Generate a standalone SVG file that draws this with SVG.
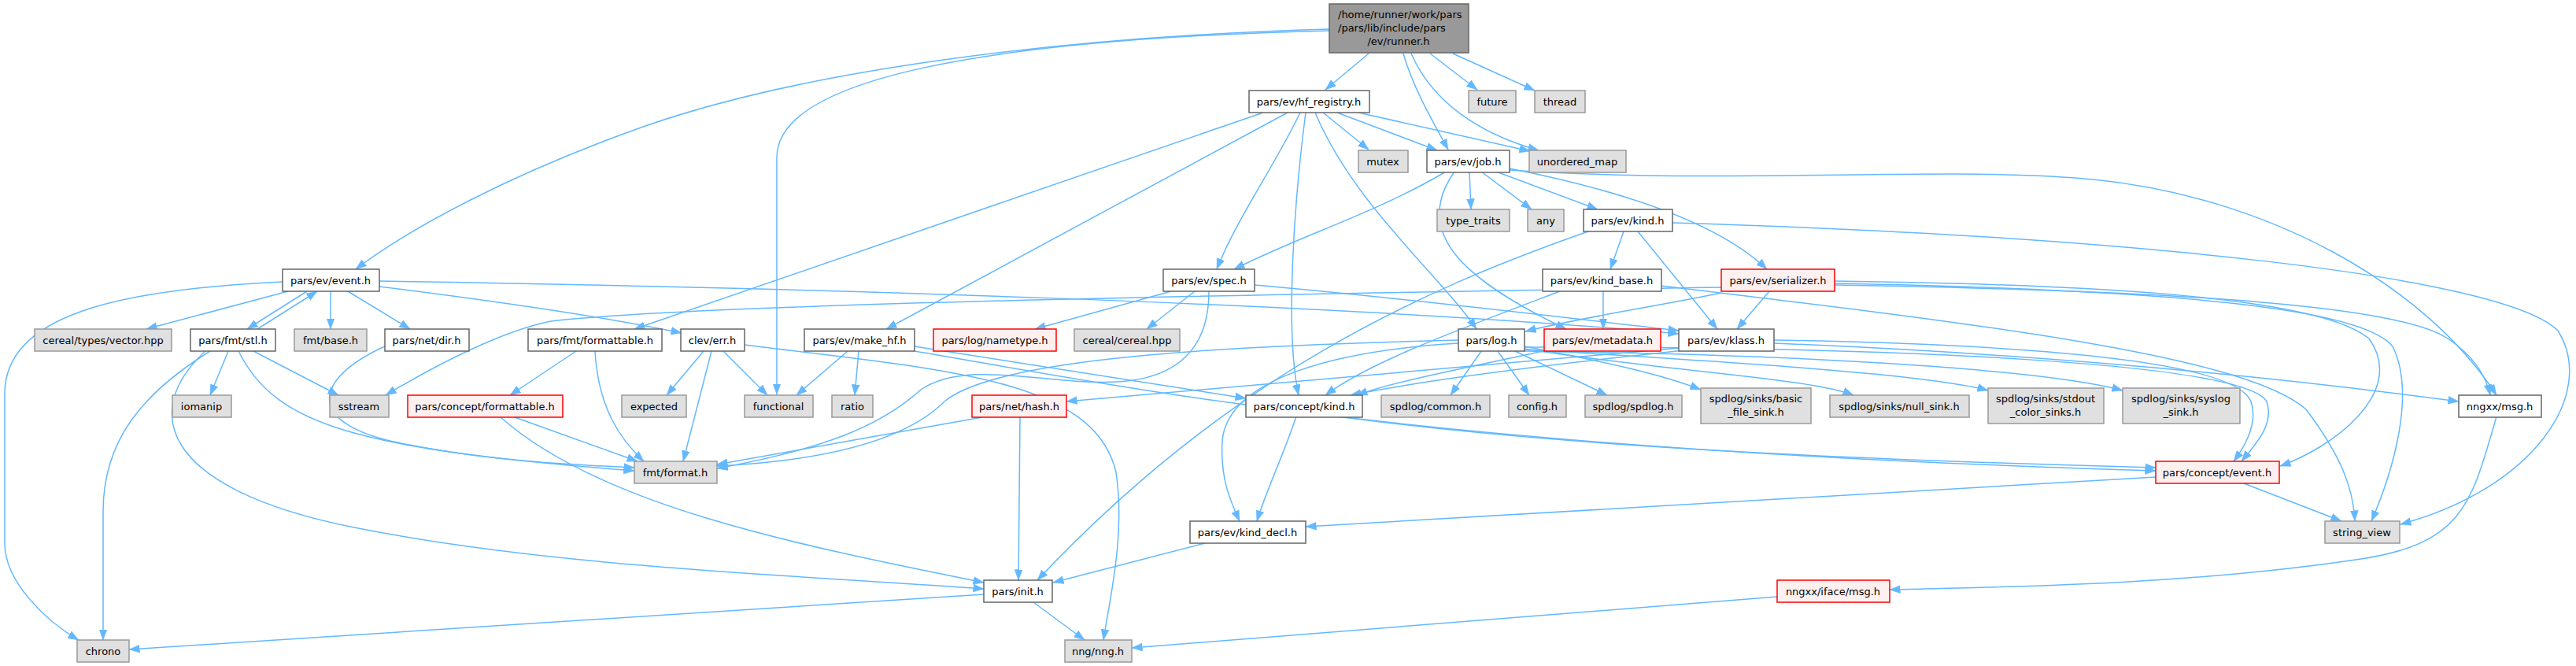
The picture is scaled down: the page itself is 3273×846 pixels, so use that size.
<svg xmlns="http://www.w3.org/2000/svg" width="3273" height="846" viewBox="0 0 3273 846">
<defs>
<style>
.w{fill:#ffffff;stroke:#666666;stroke-width:1.5}
.g{fill:#e0e0e0;stroke:#999999;stroke-width:1.5}
.r{fill:#fff0f0;stroke:#ff0000;stroke-width:1.5}
.root{fill:#999999;stroke:#666666;stroke-width:1.5}
text{font-family:"DejaVu Sans","Liberation Sans",sans-serif;font-size:13px;fill:#000000;text-anchor:middle}
.e path{fill:none;stroke:#63b8ff;stroke-width:1.5;marker-end:url(#a)}
</style>
<marker id="a" markerUnits="userSpaceOnUse" markerWidth="14" markerHeight="11" viewBox="0 0 14 11" refX="13.5" refY="5.5" orient="auto">
<path d="M0,0.5 L13.5,5.5 L0,10.5 z" fill="#63b8ff" stroke="#63b8ff" stroke-width="0.5"/>
</marker>
</defs>
<rect x="0" y="0" width="3273" height="846" fill="#ffffff"/>
<g class="e" id="edges">
<path d="M1739,68 L1684,114"/>
<path d="M1817,68 L1877,114"/>
<path d="M1846,68 L1950,115"/>
<path d="M1783,68 C1795,110 1818,150 1840,190"/>
<path d="M1793,68 C1820,130 1880,170 1955,191"/>
<path d="M1689,37 C1400,45 1050,80 820,160 C650,220 520,290 452,342"/>
<path d="M1689,39 C1250,50 987,100 987,200 L987,501"/>
<path d="M1681,143 L1739,190"/>
<path d="M1699,143 L1826,191"/>
<path d="M1726,143 L1944,192"/>
<path d="M1652,143 C1620,210 1570,280 1546,342"/>
<path d="M1605,143 L806,418"/>
<path d="M1636,143 L1126,418"/>
<path d="M1671,143 C1720,260 1830,350 1876,418"/>
<path d="M1659,143 C1645,250 1632,420 1650,502"/>
<path d="M1837,218 C1750,270 1650,300 1568,342"/>
<path d="M1867,218 L1869,266"/>
<path d="M1882,218 L1946,266"/>
<path d="M1901,218 L2030,266"/>
<path d="M1918,214 C2050,240 2180,280 2245,342"/>
<path d="M1848,218 C1790,300 1870,360 1990,418"/>
<path d="M1918,216 C2200,235 2480,210 2660,228 C2880,250 3080,360 3172,502"/>
<path d="M2063,294 L2046,342"/>
<path d="M2081,294 L2182,418"/>
<path d="M2125,283 C2700,300 3180,350 3250,420 C3300,500 3220,620 3050,666"/>
<path d="M2018,294 C1800,370 1560,480 1318,737"/>
<path d="M2037,370 L2037,418"/>
<path d="M1982,370 C1850,420 1740,460 1684,502"/>
<path d="M2111,363 C2500,410 2850,450 2930,520 C2975,580 2990,620 2992,662"/>
<path d="M2248,370 L2207,418"/>
<path d="M2187,372 C2100,390 2000,405 1938,421"/>
<path d="M2187,365 C1700,372 900,385 700,408 C640,420 560,460 490,502"/>
<path d="M2331,357 C2700,362 2950,380 3010,430 C3060,500 2960,570 2897,592"/>
<path d="M2331,360 C2750,368 3000,390 3040,440 C3070,500 3040,600 3013,662"/>
<path d="M2331,362 C2800,370 3050,390 3110,430 C3140,450 3158,475 3164,502"/>
<path d="M366,370 L186,418"/>
<path d="M390,370 L314,418"/>
<path d="M327,418 L403,370"/>
<path d="M420,370 L420,418"/>
<path d="M442,370 L521,418"/>
<path d="M482,364 C650,385 780,405 866,423"/>
<path d="M482,357 C1000,365 1700,385 2133,424"/>
<path d="M359,358 C150,368 6,400 6,500 L6,690 C6,740 60,790 100,813"/>
<path d="M290,446 L267,502"/>
<path d="M322,446 L430,502"/>
<path d="M267,446 C180,500 131,560 131,650 L131,813"/>
<path d="M303,446 C350,540 450,570 806,598"/>
<path d="M261,446 C180,520 200,620 450,670 C700,720 1000,730 1250,748"/>
<path d="M489,440 C400,480 380,540 520,565 C620,585 720,590 806,594"/>
<path d="M732,446 L648,502"/>
<path d="M756,446 C760,520 790,560 818,586"/>
<path d="M654,530 L810,586"/>
<path d="M636,530 C760,640 1000,690 1250,740"/>
<path d="M894,446 L847,502"/>
<path d="M919,446 L975,502"/>
<path d="M904,446 L868,586"/>
<path d="M946,438 C1200,470 1390,480 1418,600 C1430,680 1410,760 1402,813"/>
<path d="M1077,446 L1012,502"/>
<path d="M1091,446 L1086,502"/>
<path d="M1162,440 C1350,470 1480,490 1583,506"/>
<path d="M1162,446 C1450,495 1800,570 2739,598"/>
<path d="M1488,370 L1315,418"/>
<path d="M1518,370 L1457,418"/>
<path d="M1594,362 C1800,380 2000,405 2133,420"/>
<path d="M1536,370 C1536,440 1500,480 1420,485 C1330,490 1230,455 1170,495 C1120,540 1050,570 911,595"/>
<path d="M1882,446 L1843,502"/>
<path d="M1903,446 L1943,502"/>
<path d="M1925,446 L2042,502"/>
<path d="M1937,440 C2040,460 2110,475 2161,495"/>
<path d="M1937,443 C2100,470 2300,480 2355,502"/>
<path d="M1937,444 C2200,460 2450,475 2526,496"/>
<path d="M1937,446 C2300,450 2600,470 2697,496"/>
<path d="M1853,432 C1500,440 1260,460 1200,510 C1150,560 1050,585 911,592"/>
<path d="M1853,436 C1700,445 1560,480 1553,560 C1550,610 1565,640 1575,662"/>
<path d="M1937,441 C2400,440 2850,460 2880,510 C2890,540 2865,565 2848,586"/>
<path d="M2140,445 C1950,465 1800,485 1716,502"/>
<path d="M2134,442 C1800,470 1500,495 1355,510"/>
<path d="M2254,432 C2600,438 2840,460 2860,510 C2870,540 2850,570 2838,586"/>
<path d="M2254,436 C2600,450 2900,480 3124,510"/>
<path d="M1965,445 C1850,470 1770,485 1724,502"/>
<path d="M1647,529 C1630,580 1610,620 1597,662"/>
<path d="M1700,529 C2000,570 2400,585 2739,594"/>
<path d="M2739,606 L1659,669"/>
<path d="M2851,614 L2975,662"/>
<path d="M1531,690 L1338,740"/>
<path d="M1296,529 L1294,737"/>
<path d="M1248,530 L911,590"/>
<path d="M1313,765 L1378,813"/>
<path d="M1250,755 L164,825"/>
<path d="M2258,758 L1438,823"/>
<path d="M3172,529 C3140,640 3130,690 3000,710 C2800,740 2600,745 2401,749"/>
</g>
<g id="n_runner"><rect class="root" x="1689" y="5" width="177" height="62"/><text x="1700" y="23" style="text-anchor:start">/home/runner/work/pars</text><text x="1700" y="40" style="text-anchor:start">/pars/lib/include/pars</text><text x="1777" y="57">/ev/runner.h</text></g>
<g id="n_hf_registry"><rect class="w" x="1587" y="115" width="153" height="28"/><text x="1663" y="133.5">pars/ev/hf_registry.h</text></g>
<g id="n_future"><rect class="g" x="1866" y="115" width="60" height="28"/><text x="1896" y="133.5">future</text></g>
<g id="n_thread"><rect class="g" x="1950" y="115" width="64" height="28"/><text x="1982" y="133.5">thread</text></g>
<g id="n_mutex"><rect class="g" x="1726" y="191" width="63" height="28"/><text x="1757" y="209.5">mutex</text></g>
<g id="n_job"><rect class="w" x="1813" y="191" width="105" height="28"/><text x="1865" y="209.5">pars/ev/job.h</text></g>
<g id="n_unordered_map"><rect class="g" x="1943" y="191" width="123" height="28"/><text x="2004" y="209.5">unordered_map</text></g>
<g id="n_type_traits"><rect class="g" x="1826" y="266" width="92" height="28"/><text x="1872" y="284.5">type_traits</text></g>
<g id="n_any"><rect class="g" x="1941" y="266" width="46" height="28"/><text x="1964" y="284.5">any</text></g>
<g id="n_kind"><rect class="w" x="2012" y="266" width="113" height="28"/><text x="2068" y="284.5">pars/ev/kind.h</text></g>
<g id="n_event"><rect class="w" x="359" y="342" width="123" height="28"/><text x="420" y="360.5">pars/ev/event.h</text></g>
<g id="n_spec"><rect class="w" x="1478" y="342" width="116" height="28"/><text x="1536" y="360.5">pars/ev/spec.h</text></g>
<g id="n_kind_base"><rect class="w" x="1960" y="342" width="151" height="28"/><text x="2035" y="360.5">pars/ev/kind_base.h</text></g>
<g id="n_serializer"><rect class="r" x="2187" y="342" width="144" height="28"/><text x="2259" y="360.5">pars/ev/serializer.h</text></g>
<g id="n_vector"><rect class="g" x="44" y="418" width="174" height="28"/><text x="131" y="436.5">cereal/types/vector.hpp</text></g>
<g id="n_stl"><rect class="w" x="242" y="418" width="108" height="28"/><text x="296" y="436.5">pars/fmt/stl.h</text></g>
<g id="n_base"><rect class="g" x="374" y="418" width="92" height="28"/><text x="420" y="436.5">fmt/base.h</text></g>
<g id="n_dir"><rect class="w" x="489" y="418" width="107" height="28"/><text x="542" y="436.5">pars/net/dir.h</text></g>
<g id="n_fmt_formattable"><rect class="w" x="671" y="418" width="170" height="28"/><text x="756" y="436.5">pars/fmt/formattable.h</text></g>
<g id="n_err"><rect class="w" x="865" y="418" width="81" height="28"/><text x="905" y="436.5">clev/err.h</text></g>
<g id="n_make_hf"><rect class="w" x="1022" y="418" width="140" height="28"/><text x="1092" y="436.5">pars/ev/make_hf.h</text></g>
<g id="n_nametype"><rect class="r" x="1186" y="418" width="156" height="28"/><text x="1264" y="436.5">pars/log/nametype.h</text></g>
<g id="n_cereal"><rect class="g" x="1365" y="418" width="134" height="28"/><text x="1432" y="436.5">cereal/cereal.hpp</text></g>
<g id="n_log"><rect class="w" x="1853" y="418" width="84" height="28"/><text x="1895" y="436.5">pars/log.h</text></g>
<g id="n_metadata"><rect class="r" x="1962" y="418" width="148" height="28"/><text x="2036" y="436.5">pars/ev/metadata.h</text></g>
<g id="n_klass"><rect class="w" x="2133" y="418" width="121" height="28"/><text x="2193" y="436.5">pars/ev/klass.h</text></g>
<g id="n_iomanip"><rect class="g" x="219" y="502" width="75" height="28"/><text x="256" y="520.5">iomanip</text></g>
<g id="n_sstream"><rect class="g" x="419" y="502" width="75" height="28"/><text x="456" y="520.5">sstream</text></g>
<g id="n_concept_formattable"><rect class="r" x="518" y="502" width="197" height="28"/><text x="616" y="520.5">pars/concept/formattable.h</text></g>
<g id="n_expected"><rect class="g" x="790" y="502" width="82" height="28"/><text x="831" y="520.5">expected</text></g>
<g id="n_functional"><rect class="g" x="946" y="502" width="87" height="28"/><text x="989" y="520.5">functional</text></g>
<g id="n_ratio"><rect class="g" x="1057" y="502" width="52" height="28"/><text x="1083" y="520.5">ratio</text></g>
<g id="n_hash"><rect class="r" x="1235" y="502" width="120" height="28"/><text x="1295" y="520.5">pars/net/hash.h</text></g>
<g id="n_concept_kind"><rect class="w" x="1583" y="502" width="148" height="28"/><text x="1657" y="520.5">pars/concept/kind.h</text></g>
<g id="n_spdlog_common"><rect class="g" x="1755" y="502" width="138" height="28"/><text x="1824" y="520.5">spdlog/common.h</text></g>
<g id="n_config"><rect class="g" x="1917" y="502" width="73" height="28"/><text x="1953" y="520.5">config.h</text></g>
<g id="n_spdlog"><rect class="g" x="2014" y="502" width="123" height="28"/><text x="2075" y="520.5">spdlog/spdlog.h</text></g>
<g id="n_basic_file_sink"><rect class="g" x="2161" y="493" width="140" height="45"/><text x="2231" y="511">spdlog/sinks/basic</text><text x="2231" y="528">_file_sink.h</text></g>
<g id="n_null_sink"><rect class="g" x="2325" y="502" width="177" height="28"/><text x="2413" y="520.5">spdlog/sinks/null_sink.h</text></g>
<g id="n_stdout_color_sinks"><rect class="g" x="2526" y="493" width="147" height="45"/><text x="2599" y="511">spdlog/sinks/stdout</text><text x="2599" y="528">_color_sinks.h</text></g>
<g id="n_syslog_sink"><rect class="g" x="2697" y="493" width="149" height="45"/><text x="2771" y="511">spdlog/sinks/syslog</text><text x="2771" y="528">_sink.h</text></g>
<g id="n_nngxx_msg"><rect class="w" x="3124" y="502" width="105" height="28"/><text x="3176" y="520.5">nngxx/msg.h</text></g>
<g id="n_fmt_format"><rect class="g" x="806" y="586" width="105" height="28"/><text x="858" y="604.5">fmt/format.h</text></g>
<g id="n_concept_event"><rect class="r" x="2739" y="586" width="157" height="28"/><text x="2817" y="604.5">pars/concept/event.h</text></g>
<g id="n_kind_decl"><rect class="w" x="1512" y="662" width="147" height="28"/><text x="1585" y="680.5">pars/ev/kind_decl.h</text></g>
<g id="n_string_view"><rect class="g" x="2954" y="662" width="95" height="28"/><text x="3001" y="680.5">string_view</text></g>
<g id="n_init"><rect class="w" x="1250" y="737" width="87" height="28"/><text x="1293" y="755.5">pars/init.h</text></g>
<g id="n_iface_msg"><rect class="r" x="2258" y="737" width="143" height="28"/><text x="2329" y="755.5">nngxx/iface/msg.h</text></g>
<g id="n_chrono"><rect class="g" x="98" y="813" width="66" height="28"/><text x="131" y="831.5">chrono</text></g>
<g id="n_nng"><rect class="g" x="1353" y="813" width="85" height="28"/><text x="1395" y="831.5">nng/nng.h</text></g>
</svg>
